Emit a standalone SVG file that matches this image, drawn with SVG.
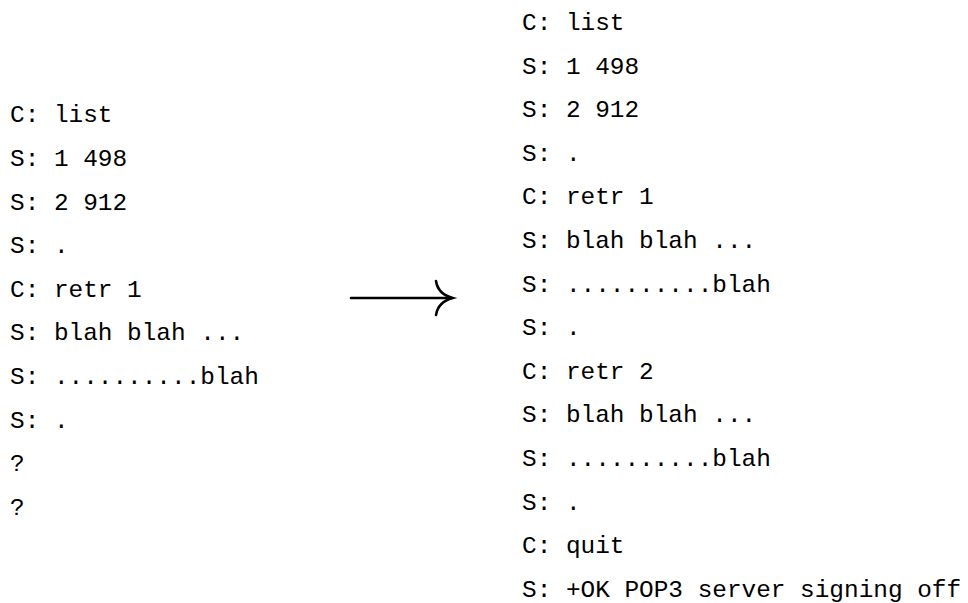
<svg xmlns="http://www.w3.org/2000/svg" width="968" height="603" viewBox="0 0 968 603">
  <style>
    .tt { font-family: "Liberation Mono", "DejaVu Sans Mono", monospace; font-size: 24.4px; fill: #000; }
    .conn { fill: none; stroke: #000; stroke-width: 2.6; stroke-linecap: round; }
  </style>
  <rect width="968" height="603" fill="#fff"/>

  <!-- session before: ends with unknown steps -->
  <g id="session-before" class="tt">
    <text x="10" y="122.3">C: list</text>
    <text x="10" y="165.9">S: 1 498</text>
    <text x="10" y="209.5">S: 2 912</text>
    <text x="10" y="253.1">S: .</text>
    <text x="10" y="296.7">C: retr 1</text>
    <text x="10" y="340.3">S: blah blah ...</text>
    <text x="10" y="383.9">S: ..........blah</text>
    <text x="10" y="427.5">S: .</text>
    <text x="10" y="471.1">?</text>
    <text x="10" y="514.7">?</text>
  </g>

  <!-- transformation arrow -->
  <g id="connectors">
    <path class="conn" d="M351,298 H452"/>
    <path class="conn" d="M436,281 Q438,294 452.5,298 Q438,302 436,315"/>
  </g>

  <!-- session after: completed exchange -->
  <g id="session-after" class="tt">
    <text x="522" y="30">C: list</text>
    <text x="522" y="73.6">S: 1 498</text>
    <text x="522" y="117.2">S: 2 912</text>
    <text x="522" y="160.8">S: .</text>
    <text x="522" y="204.4">C: retr 1</text>
    <text x="522" y="248">S: blah blah ...</text>
    <text x="522" y="291.6">S: ..........blah</text>
    <text x="522" y="335.2">S: .</text>
    <text x="522" y="378.8">C: retr 2</text>
    <text x="522" y="422.4">S: blah blah ...</text>
    <text x="522" y="466">S: ..........blah</text>
    <text x="522" y="509.6">S: .</text>
    <text x="522" y="553.2">C: quit</text>
    <text x="522" y="596.8">S: +OK POP3 server signing off</text>
  </g>
</svg>
